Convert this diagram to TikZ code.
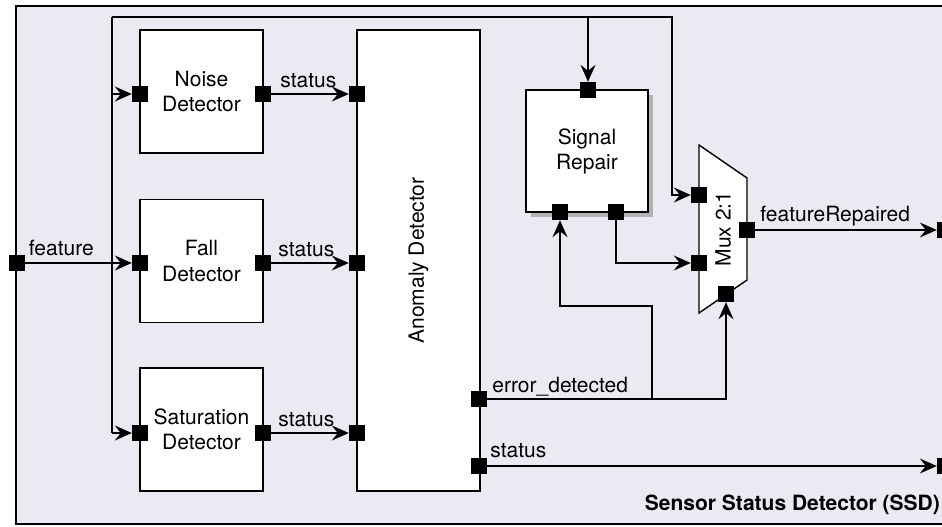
\documentclass[tikz,border=0pt]{standalone}
\usepackage{fontspec}
\setmainfont{TeX Gyre Heros}
\usetikzlibrary{arrows.meta, shadows}
\definecolor{ssdbg}{RGB}{236,233,242}
\definecolor{shadowgray}{RGB}{178,178,182}
\begin{document}
\begin{tikzpicture}[x=1pt, y=-1pt,
  blk/.style={draw=black, line width=1.3pt, fill=white, inner sep=0pt,
    minimum width=123pt, minimum height=123pt, align=center,
    font=\fontsize{21}{25}\selectfont},
  prt/.style={fill=black, inner sep=0pt, minimum size=16pt},
  wire/.style={draw=black, line width=1.4pt},
  arr/.style={wire, -{Stealth[length=17pt, width=15pt, inset=6pt]}},
  lbl/.style={font=\fontsize{21}{25}\selectfont, inner sep=0pt, anchor=base west}]
\clip (0,0) rectangle (942,527);
\draw[line width=1.3pt, fill=ssdbg] (16,6) rectangle (950,524);
\node[font=\fontsize{21}{25}\selectfont\bfseries, inner sep=0pt, anchor=base east] (title) at (940,510) {Sensor Status Detector (SSD)};
% blocks
\node[blk] (noise) at (201.5,91.5) {Noise\\Detector};
\node[blk] (fall) at (201.5,261) {Fall\\Detector};
\node[blk] (sat) at (201.5,429.5) {Saturation\\Detector};
\node[blk, minimum height=461pt] (anom) at (418.5,260.5) {};
\node[rotate=90, font=\fontsize{21}{25}\selectfont] (anomtxt) at (anom.center) {Anomaly Detector};
\node[blk, minimum width=122pt, minimum height=122pt,
  drop shadow={shadow xshift=5pt, shadow yshift=-5pt, fill=shadowgray, opacity=1}] (repair) at (587,151) {Signal\\Repair};
\draw[wire, fill=white] (699,145) coordinate (mx1) -- (747,178) coordinate (mx2)
  -- (747,280) coordinate (mx3) -- (699,313) coordinate (mx4) -- cycle;
\node[rotate=90, font=\fontsize{21}{25}\selectfont] (muxtxt) at (723,229) {Mux 2:1};
% ports
\node[prt] (pf) at (16.5,263) {};
\node[prt] (nin) at (140,94) {};  \node[prt] (nout) at (263,94) {};
\node[prt] (fin) at (140,263) {}; \node[prt] (fout) at (263,263) {};
\node[prt] (sin) at (140,433) {}; \node[prt] (sout) at (263,433) {};
\node[prt] (ain1) at (357,94) {}; \node[prt] (ain2) at (357,263) {}; \node[prt] (ain3) at (357,433) {};
\node[prt] (aerr) at (479,399) {}; \node[prt] (ast) at (479,466) {};
\node[prt] (rin) at (588,90) {}; \node[prt] (rerr) at (560,212) {}; \node[prt] (rout) at (616,212) {};
\node[prt] (min1) at (699,195) {}; \node[prt] (min2) at (699,263) {};
\node[prt] (msel) at (726,294) {}; \node[prt] (mout) at (747,230) {};
\node[prt] (pout1) at (945,230) {}; \node[prt] (pout2) at (945,466) {};
% bends
\coordinate (bt) at (112,17);
\coordinate (bn) at (112,94);
\coordinate (bb) at (112,433);
\coordinate (tb) at (588,17);
\coordinate (tr) at (672,17);
\coordinate (eb) at (652,399);
\coordinate (ec) at (652,306);
% feature bus
\draw[arr] (pf) -- (fin);
\draw[wire] (bt) -- (bb);
\draw[arr] (bn) -- (nin);
\draw[arr] (bb) -- (sin);
\draw[arr] (bt) -- (tr) |- (min1);
\draw[arr] (tb) -- (rin);
% detectors to anomaly detector
\draw[arr] (nout) -- (ain1);
\draw[arr] (fout) -- (ain2);
\draw[arr] (sout) -- (ain3);
% error path and repair
\draw[arr] (aerr) -| (msel);
\draw[arr] (eb) -- (ec) -| (rerr);
\draw[arr] (rout) |- (min2);
\draw[arr] (mout) -- (pout1);
\draw[arr] (ast) -- (pout2);
% labels
\node[lbl] (lf) at ([xshift=4pt, yshift=8pt]pf.east) {feature};
\node[lbl] (ln) at ([xshift=9pt, yshift=7pt]nout.east) {status};
\node[lbl] (lfa) at ([xshift=7pt, yshift=7pt]fout.east) {status};
\node[lbl] (ls) at ([xshift=7pt, yshift=7pt]sout.east) {status};
\node[lbl] (le) at ([xshift=5pt, yshift=7pt]aerr.east) {error\_detected};
\node[lbl] (lst) at ([xshift=3pt, yshift=9pt]ast.east) {status};
\node[lbl] (lfr) at ([xshift=5pt, yshift=9pt]mout.east) {featureRepaired};
\end{tikzpicture}
\end{document}
